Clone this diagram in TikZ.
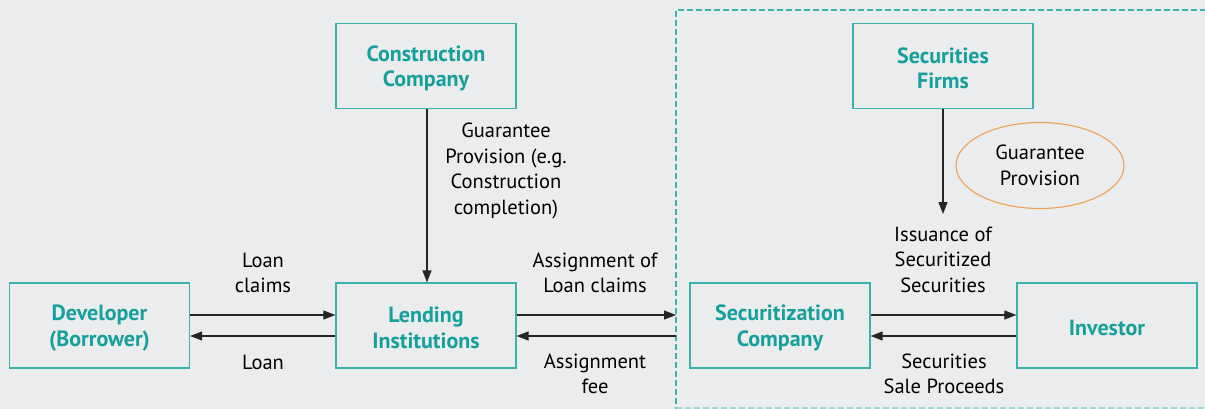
\documentclass[tikz,border=0pt]{standalone}
\usepackage{fontspec}
\setmainfont{PT Sans}
\usetikzlibrary{arrows.meta,shapes.geometric}
\definecolor{bg}{HTML}{EBECEE}
\definecolor{teal}{HTML}{16A09B}
\definecolor{tealline}{HTML}{3AB2AD}
\definecolor{orng}{HTML}{F0A050}
\tikzset{
  box/.style={draw=tealline, line width=1.3pt, minimum width=180pt, minimum height=85pt, inner sep=0pt},
  boxtxt/.style={align=center, text=teal, font=\fontsize{22}{25.5}\selectfont\bfseries, inner sep=0pt, yshift=-2.5pt},
  lbl/.style={align=center, font=\fontsize{20.5}{25.5}\selectfont, text=black, inner sep=0pt},
  arr/.style={-{Triangle[length=12pt,width=9pt]}, line width=1.1pt, draw=black!85},
}
\begin{document}
\begin{tikzpicture}[x=1pt,y=-1pt]
\fill[bg] (0,0) rectangle (1205,409);
\useasboundingbox (0,0) rectangle (1205,409);
% dashed region
\draw[tealline, line width=1.3pt, dash pattern=on 6pt off 3pt] (1206,10) -- (676,10) -- (676,410);
\draw[tealline!50, line width=1.3pt, dash pattern=on 6pt off 3pt] (676,408) -- (1206,408);
% boxes
\node[box, label={[boxtxt]center:{Developer\\(Borrower)}}] (dev) at (99.5,325.5) {};
\node[box, label={[boxtxt]center:{Lending\\Institutions}}] (lend) at (426,325.5) {};
\node[box, label={[boxtxt]center:{Construction\\Company}}] (cons) at (426,66) {};
\node[box, label={[boxtxt]center:{Securitization\\Company}}] (secco) at (780,325.5) {};
\node[box, label={[boxtxt]center:{Investor}}] (inv) at (1107,325.5) {};
\node[box, label={[boxtxt]center:{Securities\\Firms}}] (firm) at (943,66) {};
\coordinate (dashin) at (676,315);
\coordinate (dashout) at (676,336);
\node[draw=orng, line width=1.1pt, ellipse, minimum width=168pt, minimum height=86pt, inner sep=0pt] (gp) at (1040,165.5) {};
\node[lbl] at (gp.center) {Guarantee\\Provision};
% arrows
\draw[arr] (dev.east |- 0,315) -- (lend.west |- 0,315);
\draw[arr] (lend.west |- 0,336) -- (dev.east |- 0,336);
\draw[arr] (lend.east |- 0,315) -- (dashin);
\draw[arr] (dashout) -- (lend.east |- 0,336);
\draw[arr] (secco.east |- 0,315) -- (inv.west |- 0,315);
\draw[arr] (inv.west |- 0,336) -- (secco.east |- 0,336);
\draw[arr] (cons.south -| 427,0) -- (lend.north -| 427,0);
\coordinate (issue) at (943,214);
\draw[arr] (firm.south) -- (issue);
% labels
\node[lbl] at (263,273) {Loan\\claims};
\node[lbl] at (263,362) {Loan};
\node[lbl] at (506,171) {Guarantee\\Provision (e.g.\\Construction\\completion)};
\node[lbl] at (595,273) {Assignment of\\Loan claims};
\node[lbl] at (595,374) {Assignment\\fee};
\node[lbl] at (943,259.5) {Issuance of\\Securitized\\Securities};
\node[lbl] at (944,374) {Securities\\Sale Proceeds};
\end{tikzpicture}
\end{document}
